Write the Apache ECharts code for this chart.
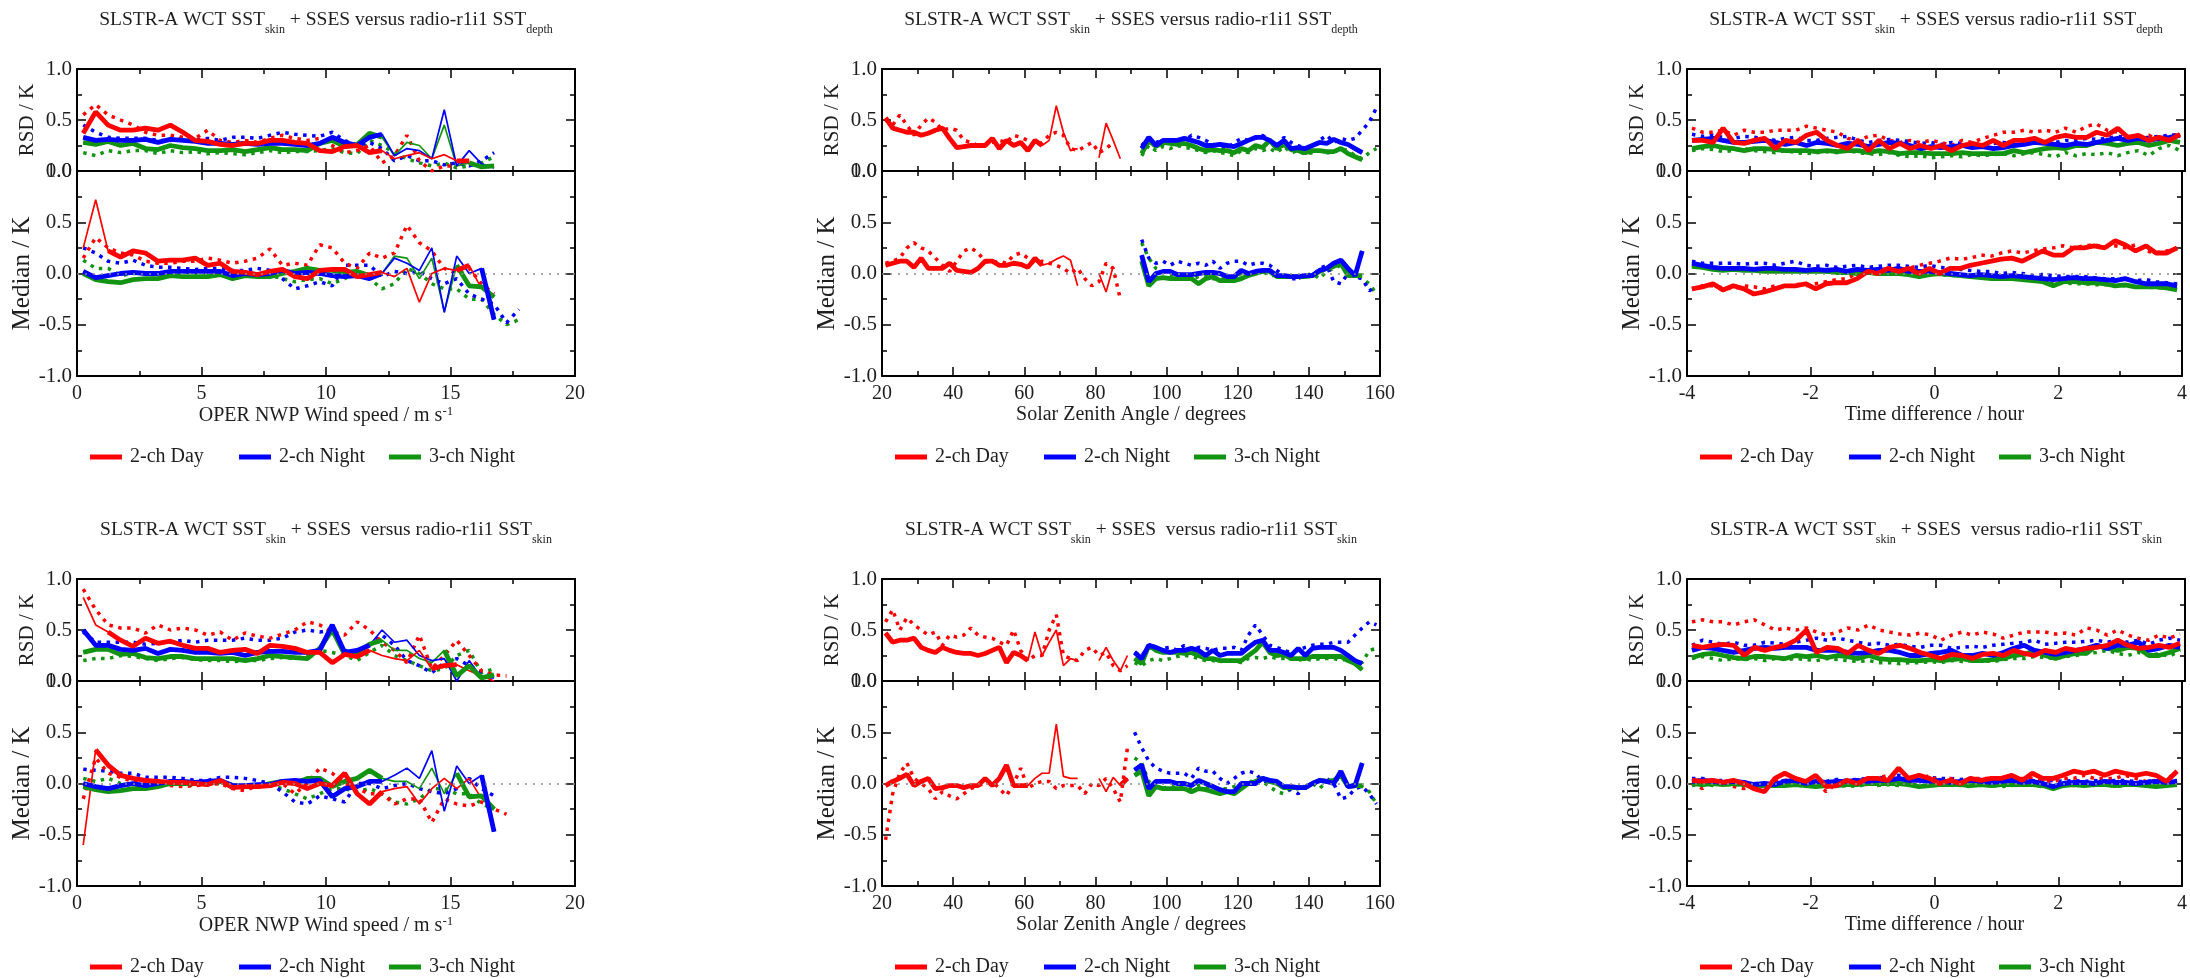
<!DOCTYPE html>
<html><head><meta charset="utf-8">
<script src="https://cdn.jsdelivr.net/npm/echarts@6/dist/echarts.min.js"></script>
<style>html,body{margin:0;padding:0;background:#fff}#c{width:2190px;height:978px}</style>
</head><body><div id="c"></div>
<script>
// ---------------- DATA ----------------
const windX = [0.25,0.75,1.25,1.75,2.25,2.75,3.25,3.75,4.25,4.75,5.25,5.75,6.25,6.75,7.25,7.75,8.25,8.75,9.25,9.75,10.25,10.75,11.25,11.75,12.25,12.75,13.25,13.75,14.25,14.75,15.25,15.75,16.25,16.75,17.25,17.75];
const szaDayX = [21,23,25,27,29,31,33,35,37,39,41,43,45,47,49,51,53,55,57,59,61,63,65,67,69,71,73,75,77,79,81,83,85,87,89];
const szaNightX = [91,93,95,97,99,101,103,105,107,109,111,113,115,117,119,121,123,125,127,129,131,133,135,137,139,141,143,145,147,149,151,153,155,157,159];
const timeX = [-3.92,-3.75,-3.58,-3.42,-3.25,-3.08,-2.92,-2.75,-2.58,-2.42,-2.25,-2.08,-1.92,-1.75,-1.58,-1.42,-1.25,-1.08,-0.92,-0.75,-0.58,-0.42,-0.25,-0.08,0.08,0.25,0.42,0.58,0.75,0.92,1.08,1.25,1.42,1.58,1.75,1.92,2.08,2.25,2.42,2.58,2.75,2.92,3.08,3.25,3.42,3.58,3.75,3.92];

const windTicks = [0,5,10,15,20];
const szaTicks = [20,40,60,80,100,120,140,160];
const timeTicks = [-4,-2,0,2,4];
const rsdTicks = [0,0.5,1.0];
const medTicks = [-1.0,-0.5,0,0.5,1.0];
const seriesNames = ['2-ch Day','2-ch Night','3-ch Night'];

// Panel 1: wind speed, vs SST depth
const p1RsdDay = [0.37,0.58,0.45,0.40,0.40,0.42,0.40,0.45,0.38,0.30,0.29,0.26,0.25,0.27,0.27,0.30,0.30,0.28,0.27,0.20,0.19,0.24,0.25,0.18,0.20,0.12,0.15,0.18,0.12,0.16,0.10,0.10];
const p1RsdDayDot = [0.55,0.65,0.55,0.50,0.45,0.38,0.35,0.35,0.33,0.32,0.40,0.30,0.28,0.30,0.28,0.32,0.35,0.32,0.30,0.32,0.25,0.18,0.20,0.25,0.08,0.15,0.35,0.10,0.00,0.05,0.05];
const p1RsdNight = [0.33,0.30,0.31,0.30,0.30,0.31,0.28,0.31,0.30,0.29,0.27,0.27,0.26,0.27,0.26,0.27,0.27,0.26,0.25,0.27,0.33,0.28,0.25,0.33,0.36,0.15,0.22,0.20,0.12,0.60,0.05,0.20,0.07,0.03];
const p1RsdNightDot = [0.45,0.38,0.33,0.32,0.32,0.32,0.30,0.30,0.32,0.30,0.32,0.30,0.33,0.33,0.32,0.35,0.38,0.36,0.35,0.34,0.38,0.30,0.25,0.28,0.22,0.10,0.15,0.10,0.10,0.06,0.08,0.05,0.10,0.18];
const p1RsdNight3 = [0.28,0.26,0.29,0.25,0.27,0.22,0.21,0.25,0.23,0.22,0.20,0.20,0.21,0.19,0.21,0.23,0.21,0.21,0.20,0.27,0.30,0.24,0.26,0.37,0.33,0.15,0.28,0.25,0.12,0.45,0.05,0.08,0.04,0.05];
const p1RsdNight3Dot = [0.18,0.15,0.20,0.18,0.20,0.20,0.17,0.20,0.18,0.19,0.17,0.18,0.17,0.16,0.18,0.20,0.18,0.19,0.19,0.20,0.22,0.18,0.17,0.30,0.25,0.18,0.12,0.08,0.05,0.08,0.03,0.05,0.08,0.14];
const p1MedDay = [0.25,0.72,0.22,0.16,0.22,0.20,0.12,0.13,0.13,0.15,0.08,0.10,0.02,0.01,-0.01,0.02,0.04,-0.03,-0.05,0.03,0.04,0.04,-0.03,-0.01,0.01,-0.03,0.05,-0.28,0.00,0.05,0.03,0.08,-0.15];
const p1MedDayDot = [0.15,0.35,0.25,0.20,0.18,0.12,0.10,0.10,0.12,0.12,0.15,0.13,0.10,0.12,0.15,0.24,0.08,0.10,0.08,0.28,0.25,0.10,0.05,0.20,0.15,0.20,0.47,0.30,0.22,0.05,0.00,0.05,-0.10,-0.20];
const p1MedNight = [0.02,-0.04,-0.02,0.00,0.01,0.00,0.00,0.02,0.02,0.02,0.02,0.02,-0.02,0.00,-0.01,0.00,0.03,0.00,0.01,0.00,-0.02,-0.03,-0.02,-0.05,0.00,0.15,0.10,0.03,0.25,-0.38,0.17,0.00,0.05,-0.45];
const p1MedNightDot = [0.25,0.20,0.12,0.10,0.13,0.08,0.06,0.06,0.05,0.04,0.05,0.05,0.03,0.03,0.05,0.03,-0.05,-0.15,-0.12,-0.08,-0.12,0.08,0.08,0.08,-0.03,0.02,0.00,0.02,-0.05,-0.10,-0.05,-0.20,-0.25,-0.30,-0.48,-0.35];
const p1MedNight3 = [0.00,-0.06,-0.08,-0.09,-0.06,-0.05,-0.05,-0.02,-0.03,-0.03,-0.03,-0.01,-0.05,-0.02,-0.03,-0.03,0.00,0.02,0.05,0.03,0.03,0.01,0.02,-0.02,0.00,0.17,0.15,-0.05,0.15,-0.37,0.08,-0.12,-0.13,-0.23];
const p1MedNight3Dot = [0.13,0.05,0.05,-0.02,0.00,0.00,-0.02,0.00,0.02,0.00,0.00,-0.02,-0.02,0.00,-0.03,-0.02,-0.05,-0.08,-0.06,-0.05,-0.10,-0.05,0.02,-0.05,-0.15,-0.10,0.05,0.00,-0.10,-0.15,-0.15,-0.25,-0.25,-0.40,-0.50,-0.45];

// Panel 2: solar zenith angle, vs SST depth
const p2RsdDay = [0.52,0.42,0.40,0.38,0.38,0.35,0.37,0.40,0.42,0.32,0.23,0.24,0.25,0.25,0.25,0.32,0.22,0.30,0.25,0.28,0.20,0.30,0.25,0.30,0.64,0.38,0.20,0.22,null,null,0.13,0.47,0.30,0.12,null];
const p2RsdDayDot = [0.50,0.45,0.55,0.45,0.35,0.45,0.52,0.48,0.40,0.42,0.40,0.30,0.28,0.25,0.26,0.28,0.30,0.28,0.35,0.33,0.30,0.25,0.28,0.35,0.38,0.35,0.22,0.20,0.24,0.28,0.18,0.22,0.28,null,null];
const p2RsdNight = [null,0.22,0.33,0.25,0.30,0.30,0.30,0.32,0.30,0.28,0.25,0.25,0.26,0.25,0.24,0.27,0.30,0.33,0.33,0.30,0.25,0.30,0.22,0.23,0.22,0.25,0.28,0.27,0.31,0.28,0.26,0.22,0.18];
const p2RsdNightDot = [null,0.25,0.32,0.28,0.30,0.28,0.32,0.30,0.35,0.33,0.30,0.26,0.24,0.22,0.28,0.32,0.30,0.32,0.35,0.30,0.25,0.33,0.28,0.25,0.22,0.24,0.30,0.35,0.28,0.32,0.30,0.32,0.40,0.48,0.62];
const p2RsdNight3 = [null,0.17,0.30,0.24,0.28,0.27,0.26,0.27,0.25,0.22,0.20,0.21,0.20,0.20,0.18,0.22,0.20,0.25,0.23,0.30,0.22,0.26,0.21,0.20,0.18,0.20,0.20,0.19,0.19,0.22,0.17,0.14,0.11];
const p2RsdNight3Dot = [null,0.15,0.25,0.20,0.24,0.22,0.25,0.23,0.22,0.20,0.18,0.20,0.18,0.17,0.15,0.20,0.18,0.22,0.20,0.22,0.18,0.24,0.18,0.20,0.16,0.18,0.20,0.18,0.18,0.22,0.20,0.15,0.12,0.18,0.22];
const p2MedDay = [0.08,0.10,0.12,0.12,0.06,0.15,0.05,0.05,0.05,0.10,0.03,0.02,0.01,0.05,0.12,0.12,0.08,0.08,0.10,0.09,0.06,0.15,0.08,0.10,0.14,0.17,0.13,-0.12,null,null,0.00,-0.18,0.07,null,null];
const p2MedDayDot = [0.10,0.12,0.15,0.25,0.30,0.25,0.22,0.15,0.08,0.02,0.12,0.22,0.25,0.20,0.12,0.10,0.12,0.10,0.18,0.20,0.15,0.10,0.12,0.10,0.08,0.05,0.00,0.05,-0.05,-0.12,-0.08,0.10,0.05,-0.25,null];
const p2MedNight = [null,0.18,-0.08,0.00,0.02,0.02,-0.01,-0.01,-0.01,0.00,0.01,0.01,0.00,-0.03,-0.03,0.03,0.00,0.02,0.03,0.03,-0.02,-0.02,-0.03,-0.03,-0.02,-0.02,0.03,0.05,0.10,0.13,0.05,-0.02,0.22];
const p2MedNightDot = [null,0.33,0.15,0.10,0.12,0.08,0.12,0.10,0.08,0.10,0.08,0.12,0.05,0.10,0.12,0.12,0.08,0.10,0.10,0.08,0.03,-0.02,-0.05,-0.05,0.00,-0.03,0.05,0.08,-0.08,-0.10,0.00,-0.03,-0.05,-0.17,-0.12];
const p2MedNight3 = [null,0.12,-0.12,-0.05,-0.04,-0.05,-0.05,-0.05,-0.05,-0.10,-0.05,-0.03,-0.07,-0.07,-0.07,-0.05,-0.02,0.00,0.02,0.02,-0.03,-0.03,-0.03,-0.03,-0.03,-0.02,0.02,0.05,0.07,0.10,-0.02,-0.02,-0.02];
const p2MedNight3Dot = [null,0.30,0.15,0.05,0.02,-0.02,0.00,-0.02,-0.05,-0.03,-0.02,-0.05,-0.05,-0.05,-0.03,0.00,-0.02,0.02,0.02,-0.02,-0.02,-0.03,-0.03,-0.05,-0.02,0.00,-0.05,0.02,0.05,0.08,-0.02,-0.02,-0.05,-0.10,-0.20];

// Panel 3: time difference, vs SST depth
const p3RsdDay = [0.30,0.30,0.28,0.42,0.28,0.27,0.30,0.32,0.22,0.30,0.28,0.35,0.38,0.30,0.25,0.22,0.30,0.20,0.30,0.22,0.27,0.22,0.25,0.22,0.25,0.20,0.25,0.27,0.25,0.30,0.25,0.30,0.30,0.32,0.28,0.33,0.35,0.33,0.33,0.38,0.35,0.42,0.33,0.35,0.30,0.33,0.30,0.36];
const p3RsdDayDot = [0.42,0.38,0.38,0.40,0.35,0.40,0.38,0.38,0.40,0.40,0.40,0.44,0.42,0.40,0.38,0.32,0.30,0.34,0.35,0.30,0.28,0.30,0.28,0.30,0.28,0.25,0.30,0.28,0.32,0.35,0.38,0.38,0.40,0.38,0.40,0.38,0.42,0.38,0.44,0.46,0.40,0.38,0.35,0.33,0.35,0.30,0.32,0.38];
const p3RsdNight = [0.30,0.31,0.32,0.30,0.28,0.28,0.29,0.30,0.28,0.26,0.28,0.25,0.28,0.27,0.25,0.27,0.26,0.24,0.26,0.28,0.27,0.25,0.22,0.24,0.23,0.24,0.25,0.23,0.24,0.22,0.23,0.25,0.26,0.28,0.27,0.26,0.25,0.27,0.26,0.28,0.30,0.32,0.30,0.32,0.30,0.32,0.33,0.35];
const p3RsdNightDot = [0.36,0.34,0.35,0.33,0.32,0.34,0.33,0.32,0.30,0.32,0.33,0.30,0.30,0.32,0.33,0.34,0.30,0.28,0.30,0.31,0.30,0.29,0.27,0.28,0.26,0.28,0.27,0.26,0.25,0.27,0.28,0.27,0.28,0.30,0.29,0.28,0.30,0.30,0.32,0.31,0.32,0.34,0.33,0.32,0.33,0.34,0.35,0.36];
const p3RsdNight3 = [0.22,0.24,0.25,0.23,0.22,0.20,0.22,0.22,0.21,0.20,0.20,0.20,0.19,0.20,0.19,0.20,0.20,0.18,0.20,0.19,0.17,0.18,0.18,0.17,0.17,0.17,0.18,0.17,0.17,0.17,0.17,0.20,0.18,0.20,0.22,0.23,0.22,0.25,0.25,0.28,0.27,0.25,0.27,0.28,0.25,0.27,0.30,0.28];
const p3RsdNight3Dot = [0.20,0.22,0.21,0.19,0.20,0.22,0.20,0.19,0.18,0.20,0.18,0.17,0.18,0.19,0.18,0.20,0.18,0.17,0.16,0.18,0.15,0.14,0.15,0.13,0.14,0.15,0.14,0.16,0.15,0.16,0.17,0.15,0.17,0.18,0.16,0.14,0.18,0.15,0.17,0.16,0.18,0.15,0.18,0.20,0.15,0.22,0.25,0.20];
const p3MedDay = [-0.15,-0.13,-0.10,-0.16,-0.12,-0.15,-0.20,-0.18,-0.15,-0.12,-0.12,-0.10,-0.15,-0.10,-0.09,-0.09,-0.05,0.02,0.00,0.05,0.02,0.05,0.00,0.05,0.00,0.05,0.05,0.08,0.10,0.12,0.14,0.15,0.12,0.17,0.22,0.18,0.18,0.25,0.25,0.27,0.25,0.32,0.28,0.22,0.27,0.20,0.20,0.25];
const p3MedDayDot = [-0.15,-0.12,-0.12,-0.14,-0.15,-0.12,-0.13,-0.15,-0.12,-0.14,-0.10,-0.12,-0.10,-0.08,-0.06,-0.05,0.00,0.02,0.03,0.05,0.03,0.05,0.08,0.10,0.12,0.15,0.14,0.15,0.18,0.17,0.20,0.22,0.20,0.22,0.24,0.25,0.27,0.25,0.27,0.28,0.26,0.27,0.25,0.28,0.22,0.20,0.22,0.24];
const p3MedNight = [0.10,0.08,0.06,0.05,0.05,0.05,0.04,0.05,0.05,0.04,0.04,0.03,0.04,0.03,0.04,0.02,0.04,0.03,0.04,0.03,0.05,0.02,0.02,0.02,0.01,0.00,-0.01,-0.02,-0.01,-0.02,-0.03,-0.02,-0.03,-0.04,-0.05,-0.06,-0.05,-0.04,-0.05,-0.05,-0.06,-0.07,-0.05,-0.08,-0.10,-0.10,-0.10,-0.12];
const p3MedNightDot = [0.12,0.10,0.10,0.10,0.10,0.09,0.10,0.10,0.08,0.10,0.12,0.08,0.07,0.08,0.06,0.07,0.08,0.06,0.07,0.08,0.08,0.07,0.06,0.08,0.06,0.05,0.04,0.03,0.02,0.02,0.00,0.01,0.00,-0.02,-0.01,-0.02,-0.03,-0.03,-0.03,-0.04,-0.05,-0.05,-0.06,-0.07,-0.06,-0.08,-0.09,-0.10];
const p3MedNight3 = [0.07,0.06,0.04,0.03,0.04,0.03,0.03,0.02,0.02,0.02,0.02,0.02,0.02,0.02,0.01,0.01,0.00,0.01,0.00,0.00,0.00,-0.01,-0.03,-0.01,0.00,-0.01,-0.02,-0.03,-0.04,-0.05,-0.05,-0.05,-0.06,-0.07,-0.08,-0.12,-0.08,-0.08,-0.09,-0.09,-0.10,-0.12,-0.11,-0.13,-0.13,-0.13,-0.14,-0.16];
const p3MedNight3Dot = [0.08,0.06,0.05,0.04,0.05,0.03,0.04,0.03,0.03,0.03,0.02,0.02,0.02,0.02,0.01,0.02,0.01,0.00,0.01,0.00,0.00,-0.01,-0.01,0.00,-0.01,-0.02,-0.02,-0.03,-0.04,-0.04,-0.05,-0.05,-0.06,-0.07,-0.08,-0.09,-0.09,-0.10,-0.10,-0.11,-0.11,-0.12,-0.12,-0.13,-0.13,-0.14,-0.14,-0.15];

// Panel 4: wind speed, vs SST skin
const p4RsdDay = [0.82,0.55,0.48,0.40,0.34,0.42,0.37,0.39,0.35,0.32,0.32,0.28,0.30,0.31,0.27,0.35,0.34,0.32,0.28,0.28,0.18,0.26,0.24,0.30,0.25,0.22,0.20,0.30,0.12,0.15,0.16,0.10,0.05,0.00];
const p4RsdDayDot = [0.90,0.70,0.55,0.52,0.52,0.47,0.55,0.50,0.52,0.50,0.45,0.48,0.40,0.47,0.44,0.42,0.46,0.50,0.58,0.55,0.48,0.45,0.58,0.50,0.38,0.30,0.18,0.45,0.12,0.25,0.40,0.25,0.10,0.06,0.05];
const p4RsdNight = [0.50,0.35,0.35,0.31,0.30,0.32,0.27,0.31,0.30,0.28,0.28,0.27,0.28,0.25,0.28,0.29,0.29,0.28,0.28,0.30,0.55,0.28,0.30,0.35,0.50,0.38,0.40,0.25,0.20,0.22,0.00,0.20,0.03,0.03];
const p4RsdNightDot = [0.48,0.38,0.38,0.38,0.38,0.36,0.37,0.38,0.40,0.38,0.40,0.40,0.40,0.42,0.40,0.40,0.42,0.48,0.50,0.48,0.50,0.30,0.28,0.35,0.45,0.35,0.20,0.15,0.08,0.18,0.22,0.15,0.08,0.05];
const p4RsdNight3 = [0.28,0.31,0.31,0.26,0.27,0.23,0.22,0.24,0.24,0.22,0.22,0.22,0.22,0.20,0.22,0.25,0.24,0.23,0.22,0.32,0.50,0.26,0.28,0.36,0.40,0.30,0.30,0.22,0.18,0.30,0.05,0.15,0.03,0.06];
const p4RsdNight3Dot = [0.20,0.22,0.22,0.25,0.24,0.22,0.20,0.22,0.23,0.21,0.20,0.20,0.19,0.20,0.20,0.22,0.23,0.22,0.25,0.30,0.28,0.25,0.20,0.28,0.35,0.25,0.20,0.15,0.10,0.12,0.25,0.30,0.08,0.12];
const p4MedDay = [-0.60,0.33,0.18,0.08,0.05,0.03,0.02,0.01,0.01,0.00,-0.01,0.03,-0.04,-0.03,-0.03,-0.02,0.01,0.00,-0.05,0.00,-0.02,0.10,-0.10,-0.20,-0.08,-0.05,-0.03,-0.20,-0.05,0.05,-0.05,0.05,-0.15];
const p4MedDayDot = [-0.15,0.25,0.10,0.06,0.02,0.00,0.00,-0.02,-0.03,-0.02,-0.01,0.00,-0.05,-0.07,-0.02,-0.02,0.00,-0.10,0.00,0.15,0.10,0.00,-0.05,-0.10,-0.10,-0.20,-0.15,-0.15,-0.38,-0.15,-0.20,-0.22,-0.18,-0.25,-0.30];
const p4MedNight = [0.00,-0.03,-0.05,-0.02,0.00,-0.02,0.00,0.02,0.02,0.01,0.02,0.03,-0.02,-0.02,-0.01,-0.01,0.02,0.03,0.02,0.03,-0.13,-0.05,-0.03,0.02,0.02,0.08,0.15,0.05,0.32,-0.27,0.17,0.00,0.08,-0.47];
const p4MedNightDot = [0.14,0.13,0.12,0.10,0.10,0.06,0.06,0.06,0.05,0.03,0.03,0.06,0.06,0.05,0.03,0.00,-0.08,-0.18,-0.20,-0.12,-0.15,-0.18,0.00,0.00,-0.05,-0.02,0.00,-0.05,-0.08,-0.10,-0.05,0.05,-0.05,-0.12];
const p4MedNight3 = [-0.03,-0.06,-0.08,-0.07,-0.05,-0.05,-0.03,0.00,0.00,0.00,0.00,0.02,-0.02,-0.03,-0.03,0.00,0.02,0.00,0.05,0.05,-0.03,0.02,0.05,0.13,0.05,0.02,0.02,-0.05,0.15,-0.10,0.10,-0.13,-0.12,-0.25];
const p4MedNight3Dot = [0.05,0.02,0.05,0.00,-0.02,-0.03,-0.02,0.00,-0.01,-0.02,0.00,0.00,-0.03,-0.02,-0.02,-0.02,-0.05,-0.10,-0.15,-0.10,-0.05,-0.05,-0.08,-0.05,-0.10,-0.18,-0.20,-0.15,-0.05,-0.05,-0.10,-0.10,-0.20,-0.25];

// Panel 5: solar zenith angle, vs SST skin
const p5RsdDay = [0.47,0.38,0.40,0.40,0.42,0.33,0.30,0.28,0.33,0.30,0.28,0.27,0.27,0.25,0.27,0.30,0.33,0.18,0.28,0.25,0.20,0.48,0.25,0.38,0.50,0.15,0.22,0.20,null,null,0.20,0.33,0.20,0.10,0.25];
const p5RsdDayDot = [0.58,0.70,0.50,0.62,0.55,0.50,0.45,0.48,0.35,0.45,0.43,0.45,0.52,0.45,0.43,0.42,0.38,0.35,0.50,0.30,0.20,0.25,0.25,0.50,0.65,0.25,0.22,0.20,0.30,0.33,0.25,0.28,0.15,0.10,0.15];
const p5RsdNight = [0.28,0.22,0.35,0.33,0.30,0.28,0.30,0.30,0.32,0.30,0.25,0.30,0.25,0.27,0.27,0.27,0.33,0.38,0.40,0.30,0.30,0.28,0.25,0.32,0.25,0.32,0.33,0.33,0.33,0.30,0.25,0.20,0.17];
const p5RsdNightDot = [0.28,0.25,0.33,0.30,0.32,0.33,0.30,0.35,0.30,0.33,0.32,0.30,0.32,0.32,0.33,0.30,0.45,0.55,0.45,0.35,0.33,0.30,0.28,0.30,0.33,0.35,0.36,0.36,0.38,0.38,0.38,0.45,0.52,0.58,0.55];
const p5RsdNight3 = [0.22,0.17,0.35,0.30,0.28,0.28,0.28,0.27,0.28,0.25,0.22,0.22,0.20,0.20,0.20,0.20,0.25,0.30,0.38,0.28,0.25,0.26,0.22,0.22,0.22,0.24,0.24,0.24,0.24,0.24,0.20,0.17,0.11];
const p5RsdNight3Dot = [0.18,0.15,0.20,0.22,0.20,0.22,0.24,0.25,0.24,0.22,0.20,0.20,0.19,0.20,0.20,0.18,0.22,0.23,0.22,0.24,0.22,0.22,0.22,0.20,0.22,0.20,0.22,0.22,0.22,0.20,0.22,0.20,0.18,0.30,0.32];
const p5MedDay = [-0.02,0.02,0.05,0.09,-0.02,0.02,0.05,-0.05,-0.04,-0.02,-0.02,-0.04,-0.02,-0.02,0.05,-0.02,0.05,0.18,-0.02,-0.02,-0.02,0.05,0.10,0.10,0.58,0.07,0.05,0.05,null,null,0.05,-0.08,0.06,-0.02,0.05];
const p5MedDayDot = [-0.55,-0.10,0.10,0.20,0.05,0.00,-0.05,-0.15,-0.08,-0.12,-0.15,-0.10,-0.05,-0.02,0.00,0.02,-0.05,-0.12,0.00,0.15,-0.05,0.00,0.02,0.02,-0.05,-0.02,-0.02,-0.02,-0.10,0.00,-0.02,0.05,-0.05,-0.18,0.35];
const p5MedNight = [0.13,0.18,-0.05,0.02,0.02,0.02,0.00,0.00,-0.02,0.03,0.00,-0.03,-0.06,-0.08,-0.08,0.00,0.00,0.00,0.05,0.03,0.02,-0.03,-0.03,-0.04,-0.04,0.00,0.03,0.02,0.00,0.12,-0.03,-0.02,0.20];
const p5MedNightDot = [0.50,0.35,0.22,0.15,0.12,0.10,0.10,0.10,0.05,0.15,0.12,0.12,0.05,0.00,0.05,0.10,0.12,0.10,0.02,0.03,0.00,-0.05,-0.06,-0.10,-0.02,0.00,0.02,0.05,0.00,-0.15,-0.13,-0.05,-0.03,-0.10,-0.20];
const p5MedNight3 = [0.08,0.12,-0.12,-0.03,-0.05,-0.05,-0.05,-0.05,-0.08,-0.05,-0.06,-0.08,-0.10,-0.08,-0.10,-0.05,0.00,0.02,0.05,0.02,0.00,-0.04,-0.04,-0.04,-0.04,0.00,0.03,0.02,0.03,0.08,-0.03,-0.02,-0.02];
const p5MedNight3Dot = [0.25,0.20,0.02,-0.03,-0.05,-0.02,-0.05,-0.03,-0.05,-0.02,-0.03,-0.05,-0.05,-0.05,-0.03,0.00,0.00,0.05,0.02,-0.03,-0.08,-0.10,-0.05,-0.05,-0.03,0.00,-0.05,0.02,0.03,0.05,0.00,-0.02,-0.03,-0.08,-0.20];

// Panel 6: time difference, vs SST skin
const p6RsdDay = [0.35,0.33,0.35,0.36,0.35,0.25,0.33,0.30,0.33,0.35,0.40,0.50,0.28,0.33,0.32,0.27,0.35,0.30,0.27,0.33,0.35,0.32,0.28,0.25,0.22,0.26,0.25,0.22,0.26,0.27,0.25,0.30,0.27,0.25,0.30,0.28,0.32,0.30,0.32,0.33,0.35,0.40,0.35,0.32,0.33,0.35,0.33,0.37];
const p6RsdDayDot = [0.58,0.60,0.58,0.58,0.55,0.58,0.60,0.55,0.50,0.52,0.50,0.52,0.48,0.45,0.48,0.52,0.50,0.55,0.50,0.48,0.46,0.45,0.47,0.45,0.40,0.45,0.48,0.45,0.48,0.46,0.42,0.45,0.48,0.48,0.48,0.46,0.47,0.45,0.52,0.50,0.45,0.50,0.45,0.42,0.40,0.45,0.42,0.46];
const p6RsdNight = [0.30,0.33,0.32,0.30,0.28,0.30,0.32,0.33,0.32,0.33,0.33,0.33,0.30,0.30,0.30,0.28,0.27,0.28,0.30,0.30,0.28,0.25,0.25,0.27,0.28,0.30,0.25,0.25,0.27,0.25,0.28,0.32,0.35,0.30,0.28,0.26,0.28,0.30,0.32,0.35,0.32,0.35,0.35,0.38,0.30,0.32,0.35,0.33];
const p6RsdNightDot = [0.35,0.40,0.38,0.36,0.38,0.35,0.35,0.38,0.37,0.36,0.38,0.40,0.42,0.40,0.42,0.40,0.38,0.36,0.37,0.35,0.36,0.34,0.33,0.35,0.35,0.32,0.33,0.34,0.33,0.35,0.36,0.37,0.38,0.40,0.36,0.37,0.38,0.38,0.39,0.40,0.38,0.40,0.38,0.40,0.36,0.40,0.42,0.40];
const p6RsdNight3 = [0.23,0.26,0.27,0.25,0.23,0.22,0.24,0.24,0.23,0.22,0.25,0.24,0.25,0.23,0.25,0.24,0.22,0.25,0.22,0.21,0.21,0.20,0.20,0.21,0.20,0.21,0.22,0.20,0.20,0.21,0.22,0.25,0.26,0.30,0.25,0.22,0.25,0.27,0.27,0.35,0.32,0.30,0.33,0.32,0.25,0.25,0.28,0.32];
const p6RsdNight3Dot = [0.22,0.24,0.22,0.20,0.22,0.21,0.22,0.20,0.22,0.21,0.22,0.21,0.20,0.22,0.21,0.20,0.19,0.20,0.18,0.18,0.17,0.18,0.18,0.19,0.18,0.20,0.19,0.20,0.20,0.19,0.21,0.22,0.22,0.24,0.23,0.22,0.24,0.25,0.27,0.28,0.30,0.27,0.25,0.28,0.25,0.27,0.24,0.30];
const p6MedDay = [0.03,0.02,0.03,0.01,0.03,0.00,-0.05,-0.08,0.05,0.10,0.05,0.02,0.08,-0.03,-0.02,0.03,0.00,0.05,0.05,0.03,0.15,0.05,0.08,0.05,0.00,0.03,0.00,0.05,0.03,0.05,0.05,0.08,0.03,0.10,0.05,0.05,0.08,0.12,0.10,0.12,0.08,0.12,0.10,0.08,0.10,0.08,0.02,0.12];
const p6MedDayDot = [0.00,-0.05,0.02,0.00,-0.03,-0.05,0.00,-0.03,0.02,0.03,0.05,0.00,0.02,-0.08,0.00,0.02,0.03,0.02,0.05,0.08,0.05,0.02,0.03,0.08,0.02,0.05,0.02,0.05,0.05,0.05,0.02,0.03,0.05,0.05,0.03,0.02,0.05,0.05,0.08,0.05,0.05,0.05,0.08,0.05,0.02,0.03,0.05,0.10];
const p6MedNight = [0.02,0.03,0.02,0.01,0.02,0.01,-0.01,0.00,-0.01,0.02,0.03,0.00,0.02,0.01,0.02,0.02,0.03,0.02,0.03,0.03,0.05,0.03,0.03,0.02,0.03,0.01,0.02,0.03,0.02,0.01,0.02,0.03,0.01,0.02,0.00,-0.03,0.00,0.01,0.01,0.00,0.02,0.01,0.01,0.00,0.01,0.02,0.01,0.02];
const p6MedNightDot = [0.05,0.05,0.03,0.03,0.02,0.00,0.00,0.00,0.01,0.03,0.02,0.04,0.03,0.02,0.04,0.03,0.04,0.05,0.06,0.05,0.08,0.06,0.07,0.06,0.05,0.05,0.04,0.05,0.04,0.03,0.02,0.03,0.02,0.03,0.02,0.03,0.02,0.03,0.02,0.03,0.02,0.03,0.03,0.02,0.02,0.03,0.02,0.03];
const p6MedNight3 = [0.00,-0.01,0.00,-0.01,0.00,-0.01,-0.02,-0.02,-0.02,-0.02,-0.01,-0.02,-0.03,-0.02,-0.02,-0.01,-0.01,0.00,0.00,0.00,0.00,-0.01,-0.03,-0.02,-0.01,-0.01,-0.01,-0.02,-0.01,-0.02,-0.01,-0.01,-0.01,-0.01,-0.02,-0.05,-0.02,-0.01,-0.02,-0.01,-0.01,-0.02,-0.01,-0.01,-0.02,-0.03,-0.02,-0.01];
const p6MedNight3Dot = [-0.02,0.00,-0.02,0.00,-0.02,0.00,-0.02,-0.03,0.00,-0.02,-0.01,-0.03,0.00,-0.02,-0.03,-0.02,-0.03,0.00,-0.02,-0.01,-0.02,0.00,-0.02,-0.02,0.00,-0.01,-0.02,-0.03,-0.01,-0.02,-0.03,-0.02,0.00,-0.02,-0.03,-0.02,-0.01,-0.02,0.00,-0.02,-0.01,-0.03,-0.02,0.00,-0.02,-0.03,-0.01,-0.02];

// index ranges (inclusive) drawn with the heavy solid line; the rest of each solid series is drawn thin
const ALL = [[0,99]];
const p1RsdDayThick = [[0,24],[30,31]], p1RsdNightThick = [[0,24]], p1RsdNight3Thick = [[0,24],[31,33]];
const p1MedDayThick = [[2,24],[30,31]], p1MedNightThick = [[0,24],[32,33]], p1MedNight3Thick = [[0,24],[30,33]];
const p4RsdDayThick = [[2,23],[28,30]], p4RsdNightThick = [[0,23]], p4RsdNight3Thick = [[0,24],[29,33]];
const p4MedDayThick = [[1,24]], p4MedNightThick = [[0,24],[32,33]], p4MedNight3Thick = [[0,24],[30,33]];
const p2DayThick = [[0,22]];
const p5RsdDayThick = [[0,20]], p5MedDayThick = [[0,20],[33,34]];

// ---------------- CHART ----------------
const FONT = '"Liberation Serif","Times New Roman",serif';
const TXT = '#1e1e1e';
const COLORS = {day:'#ff0000', night:'#0000ff', night3:'#129412'};
const NAMES = {day:seriesNames[0], night:seriesNames[1], night3:seriesNames[2]};
const windName = '{n|OPER NWP Wind speed / m s}{sup|-1}';
const szaName = '{n|Solar Zenith Angle / degrees}';
const timeName = '{n|Time difference / hour}';

const panels = [
  {ticks:windTicks, xd:windX, xn:windX, xname:windName, ref:'depth',
   rsd:{day:[p1RsdDay,p1RsdDayDot,p1RsdDayThick], night:[p1RsdNight,p1RsdNightDot,p1RsdNightThick], night3:[p1RsdNight3,p1RsdNight3Dot,p1RsdNight3Thick]},
   med:{day:[p1MedDay,p1MedDayDot,p1MedDayThick], night:[p1MedNight,p1MedNightDot,p1MedNightThick], night3:[p1MedNight3,p1MedNight3Dot,p1MedNight3Thick]}},
  {ticks:szaTicks, xd:szaDayX, xn:szaNightX, xname:szaName, ref:'depth',
   rsd:{day:[p2RsdDay,p2RsdDayDot,p2DayThick], night:[p2RsdNight,p2RsdNightDot,ALL], night3:[p2RsdNight3,p2RsdNight3Dot,ALL]},
   med:{day:[p2MedDay,p2MedDayDot,p2DayThick], night:[p2MedNight,p2MedNightDot,ALL], night3:[p2MedNight3,p2MedNight3Dot,ALL]}},
  {ticks:timeTicks, xd:timeX, xn:timeX, xname:timeName, ref:'depth',
   rsd:{day:[p3RsdDay,p3RsdDayDot,ALL], night:[p3RsdNight,p3RsdNightDot,ALL], night3:[p3RsdNight3,p3RsdNight3Dot,ALL]},
   med:{day:[p3MedDay,p3MedDayDot,ALL], night:[p3MedNight,p3MedNightDot,ALL], night3:[p3MedNight3,p3MedNight3Dot,ALL]}},
  {ticks:windTicks, xd:windX, xn:windX, xname:windName, ref:'skin',
   rsd:{day:[p4RsdDay,p4RsdDayDot,p4RsdDayThick], night:[p4RsdNight,p4RsdNightDot,p4RsdNightThick], night3:[p4RsdNight3,p4RsdNight3Dot,p4RsdNight3Thick]},
   med:{day:[p4MedDay,p4MedDayDot,p4MedDayThick], night:[p4MedNight,p4MedNightDot,p4MedNightThick], night3:[p4MedNight3,p4MedNight3Dot,p4MedNight3Thick]}},
  {ticks:szaTicks, xd:szaDayX, xn:szaNightX, xname:szaName, ref:'skin',
   rsd:{day:[p5RsdDay,p5RsdDayDot,p5RsdDayThick], night:[p5RsdNight,p5RsdNightDot,ALL], night3:[p5RsdNight3,p5RsdNight3Dot,ALL]},
   med:{day:[p5MedDay,p5MedDayDot,p5MedDayThick], night:[p5MedNight,p5MedNightDot,ALL], night3:[p5MedNight3,p5MedNight3Dot,ALL]}},
  {ticks:timeTicks, xd:timeX, xn:timeX, xname:timeName, ref:'skin',
   rsd:{day:[p6RsdDay,p6RsdDayDot,ALL], night:[p6RsdNight,p6RsdNightDot,ALL], night3:[p6RsdNight3,p6RsdNight3Dot,ALL]},
   med:{day:[p6MedDay,p6MedDayDot,ALL], night:[p6MedNight,p6MedNightDot,ALL], night3:[p6MedNight3,p6MedNight3Dot,ALL]}}
];

const LEFTS = [77, 882, 1687];
const PW = 498;
const ROW_DY = 510;
const RSD_TOP = 69, RSD_H = 102, MED_TOP = 171, MED_H = 205;
const LEG_OFFSETS = [13, 162, 312];

const grids = [], xAxes = [], yAxes = [], series = [], legends = [], graphics = [];

function tickCommon(){
  return {
    axisLine:{show:true, onZero:false, lineStyle:{color:'#000', width:2}},
    axisTick:{show:true, inside:true, length:9, lineStyle:{color:'#000', width:1.5}},
    minorTick:{show:true, splitNumber:2, length:5, lineStyle:{color:'#000', width:1.5}},
    splitLine:{show:false}, minorSplitLine:{show:false}
  };
}
function toData(xs, vals){ return vals.map((v,i)=>[xs[i], v==null ? '-' : v]); }
function toThick(xs, vals, ranges){
  return vals.map((v,i)=>[xs[i], (v!=null && ranges.some(r=>i>=r[0] && i<=r[1])) ? v : '-']);
}

panels.forEach((p, pi)=>{
  const row = Math.floor(pi/3), col = pi%3;
  const L = LEFTS[col], dy = row*ROW_DY;
  ['rsd','med'].forEach((kind)=>{
    const gi = grids.length;
    const isR = kind==='rsd';
    grids.push({left:L, width:PW, top:(isR?RSD_TOP:MED_TOP)+dy, height:isR?RSD_H:MED_H, containLabel:false});
    const xmin = p.ticks[0], xmax = p.ticks[p.ticks.length-1], xint = p.ticks[1]-p.ticks[0];
    const yt = isR ? rsdTicks : medTicks;
    const ymin = yt[0], ymax = yt[yt.length-1], yint = yt[1]-yt[0];
    const xi = xAxes.length;
    xAxes.push(Object.assign({type:'value', gridIndex:gi, position:'bottom', min:xmin, max:xmax, interval:xint,
      axisLabel:{show:!isR, margin:8, color:TXT, fontFamily:FONT, fontSize:20},
      name: isR ? '' : p.xname, nameLocation:'middle', nameGap:28,
      nameTextStyle:{fontFamily:FONT, fontSize:20, color:TXT,
        rich:{n:{fontFamily:FONT, fontSize:20, color:TXT, verticalAlign:'bottom', lineHeight:21},
              sup:{fontFamily:FONT, fontSize:13, color:TXT, verticalAlign:'top', lineHeight:12}}}
    }, tickCommon()));
    xAxes.push(Object.assign({type:'value', gridIndex:gi, position:'top', min:xmin, max:xmax, interval:xint,
      axisLabel:{show:false}}, tickCommon()));
    const yi = yAxes.length;
    yAxes.push(Object.assign({type:'value', gridIndex:gi, position:'left', min:ymin, max:ymax, interval:yint,
      axisLabel:{show:true, margin:5, color:TXT, fontFamily:FONT, fontSize:21, formatter:(v)=>(Math.abs(v)<1e-9?0:v).toFixed(1)},
      name: isR ? 'RSD / K' : 'Median / K', nameLocation:'middle', nameGap:isR?39:38,
      nameTextStyle:{fontFamily:FONT, fontSize:isR?21:25, color:TXT}
    }, tickCommon()));
    yAxes.push(Object.assign({type:'value', gridIndex:gi, position:'right', min:ymin, max:ymax, interval:yint,
      axisLabel:{show:false}}, tickCommon()));

    let first = true;
    ['night3','night','day'].forEach((key)=>{
      const xs = key==='day' ? p.xd : p.xn;
      const [solid, dot, ranges] = p[kind][key];
      const base = {type:'line', name:NAMES[key], xAxisIndex:xi, yAxisIndex:yi, color:COLORS[key],
        symbol:'none', showSymbol:false, silent:true, animation:false, connectNulls:false, clip:true};
      const dotS = Object.assign({}, base, {data:toData(xs, dot), z:2,
        lineStyle:{width:3.5, type:[3.5,5.5], cap:'butt', color:COLORS[key]}});
      if (!isR && first){
        dotS.markLine = {silent:true, symbol:['none','none'], label:{show:false}, animation:false,
          lineStyle:{color:'#8a8a8a', type:[2,6], width:1.5}, data:[{yAxis:0}]};
        first = false;
      }
      series.push(dotS);
      series.push(Object.assign({}, base, {data:toData(xs, solid), z:3,
        lineStyle:{width:1.7, color:COLORS[key]}}));
      series.push(Object.assign({}, base, {data:toThick(xs, solid, ranges), z:4,
        lineStyle:{width:4.8, color:COLORS[key]}}));
    });
  });

  // title
  const cx = L + PW/2;
  const mid = p.ref==='depth' ? ' + SSES versus radio-r1i1 SST' : ' + SSES  versus radio-r1i1 SST';
  graphics.push({type:'text', x:cx, y:10+dy, silent:true, style:{
    text:'{a|SLSTR-A WCT SST}{b|skin}{a|'+mid+'}{b|'+p.ref+'}',
    align:'center', verticalAlign:'top', fill:TXT,
    rich:{a:{fontFamily:FONT, fontSize:19.5, lineHeight:20, verticalAlign:'top', fill:TXT},
          b:{fontFamily:FONT, fontSize:12, lineHeight:12, verticalAlign:'top', padding:[14,0,0,0], fill:TXT}}
  }});

  // legend: one component per entry so the entries sit at fixed pitch
  seriesNames.forEach((nm, k)=>{
    legends.push({left:L+LEG_OFFSETS[k], top:447+dy, orient:'horizontal', icon:'rect', itemWidth:32, itemHeight:5,
      selectedMode:false, itemStyle:{borderWidth:0}, padding:0,
      textStyle:{fontFamily:FONT, fontSize:20, color:TXT, padding:[0,0,0,3]},
      data:[nm]});
  });
});

const chart = echarts.init(document.getElementById('c'), null, {renderer:'canvas'});
chart.setOption({
  backgroundColor:'#ffffff',
  animation:false,
  grid:grids, xAxis:xAxes, yAxis:yAxes, series:series, legend:legends, graphic:graphics
});
</script></body></html>
